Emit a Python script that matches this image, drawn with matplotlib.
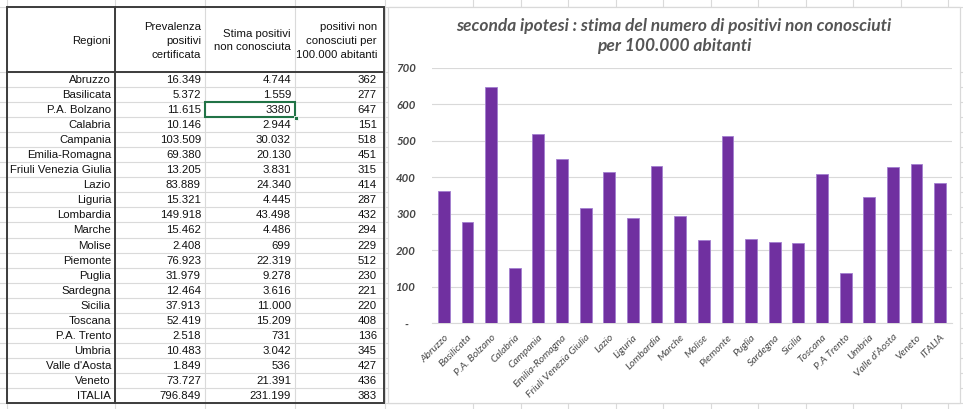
import matplotlib
matplotlib.use("Agg")
import matplotlib.pyplot as plt
from matplotlib.patches import Rectangle

# ---------------- data ----------------
regions = ["Abruzzo", "Basilicata", "P.A. Bolzano", "Calabria", "Campania",
           "Emilia-Romagna", "Friuli Venezia Giulia", "Lazio", "Liguria",
           "Lombardia", "Marche", "Molise", "Piemonte", "Puglia", "Sardegna",
           "Sicilia", "Toscana", "P.A. Trento", "Umbria", "Valle d'Aosta",
           "Veneto", "ITALIA"]
chart_labels = ["Abruzzo", "Basilicata", "P.A. Bolzano", "Calabria", "Campania",
                "Emilia-Romagna", "Friuli Venezia Giulia", "Lazio", "Liguria",
                "Lombardia", "Marche", "Molise", "Piemonte", "Puglia", "Sardegna",
                "Sicilia", "Toscana", "P.A Trento", "Umbria", "Valle d'Aosta",
                "Veneto", "ITALIA"]
prevalenza = [16349, 5372, 11615, 10146, 103509, 69380, 13205, 83889, 15321,
              149918, 15462, 2408, 76923, 31979, 12464, 37913, 52419, 2518,
              10483, 1849, 73727, 796849]
stima = [4744, 1559, 3380, 2944, 30032, 20130, 3831, 24340, 4445, 43498,
         4486, 699, 22319, 9278, 3616, 11000, 15209, 731, 3042, 536, 21391,
         231199]
per100k = [362, 277, 647, 151, 518, 451, 315, 414, 287, 432, 294, 229, 512,
           230, 221, 220, 408, 136, 345, 427, 436, 383]
headers = ["Regioni", "Prevalenza\npositivi\ncertificata",
           "Stima positivi\nnon conosciuta",
           "positivi non\nconosciuti per\n100.000 abitanti"]
title_lines = ["seconda ipotesi : stima del numero di positivi non conosciuti",
               "per 100.000 abitanti"]
yticks = [0, 100, 200, 300, 400, 500, 600, 700]
selected_row = 2  # cell being edited (shown raw, without separator)


def fmt(v):
    return f"{v:,}".replace(",", ".")


W, H = 963, 409
fig = plt.figure(figsize=(W / 100, H / 100), dpi=100)
renderer = fig.canvas.get_renderer()


def fit_size(txt, target_px, base=10, **kw):
    t = fig.text(0, 0, txt, fontsize=base, **kw)
    w = t.get_window_extent(renderer).width
    t.remove()
    return base * target_px / w


bg = fig.add_axes([0, 0, 1, 1])
bg.set_xlim(0, W)
bg.set_ylim(H, 0)
bg.axis("off")

grid_c = "#dadada"
dark = "#3c3c3c"
row_h = (403 - 72) / 22.0
row_lines = [7, 72] + [72 + row_h * (k + 1) for k in range(22)]
col_lines = [7, 115, 205, 295, 385] + [473 + 47.5 * k for k in range(11)]

for y in row_lines:
    bg.plot([0, W], [y, y], color=grid_c, lw=0.8, zorder=1)
for x in col_lines:
    bg.plot([x, x], [0, H], color=grid_c, lw=0.8, zorder=1)

# table borders
bg.add_patch(Rectangle((7, 7), 377, 396, fill=False, ec=dark, lw=1.4, zorder=3))
bg.plot([115, 115], [7, 403], color=dark, lw=1.4, zorder=3)
bg.plot([7, 384], [72, 72], color=dark, lw=1.4, zorder=3)

tfont = dict(family=["Liberation Sans", "DejaVu Sans"], fontsize=8.2, color="#111111")
col_right = [111, 201, 291, 377]

# headers
bg.text(col_right[0], 41, headers[0], ha="right", va="center", zorder=4, **tfont)
bg.text(col_right[1], 41, headers[1], ha="right", va="center", linespacing=1.45, zorder=4, **tfont)
bg.text(col_right[2], 40.5, headers[2], ha="right", va="center", linespacing=1.45, zorder=4, **tfont)
bg.text(col_right[3], 41, headers[3], ha="right", va="center", linespacing=1.45, zorder=4, **tfont)

for i in range(len(regions)):
    yc = 72 + row_h * (i + 0.5) + 0.5
    bg.text(col_right[0], yc, regions[i], ha="right", va="center", zorder=4, **tfont)
    bg.text(col_right[1], yc, fmt(prevalenza[i]), ha="right", va="center", zorder=4, **tfont)
    s = str(stima[i]) if i == selected_row else fmt(stima[i])
    bg.text(col_right[2], yc, s, ha="right", va="center", zorder=4, **tfont)
    bg.text(col_right[3], yc, str(per100k[i]), ha="right", va="center", zorder=4, **tfont)

# selection box
sy = 72 + row_h * selected_row
bg.add_patch(Rectangle((205, sy), 90, row_h, fill=False, ec="#217346", lw=1.5, zorder=5))
bg.add_patch(Rectangle((293.5, sy + row_h - 1.5), 4, 4, fc="#217346", ec="white", lw=0.6, zorder=6))

# chart area
bg.add_patch(Rectangle((388, 7), 572, 396, fc="white", ec="#d9d9d9", lw=0.9, zorder=7))

gray = "#555555"
cfont = ["Lato", "DejaVu Sans"]
title_kw = dict(family=cfont, style="italic", weight="bold")
tsize = fit_size(title_lines[0], 436, **title_kw)
fig.text(674 / W, 1 - 25.5 / H, title_lines[0], ha="center", va="center", fontsize=tsize,
         color=gray, zorder=10, **title_kw)
fig.text(674 / W, 1 - 45.5 / H, title_lines[1], ha="center", va="center", fontsize=tsize,
         color=gray, zorder=10, **title_kw)

xl_kw = dict(family=cfont, style="italic")
xsize = fit_size("Friuli Venezia Giulia", 86, **xl_kw)

ax = fig.add_axes([432 / W, (H - 323) / H, 520 / W, (323 - 68) / H], zorder=8)
ax.set_facecolor("none")
x = list(range(len(per100k)))
ax.bar(x, per100k, width=0.5, color="#7030A0", edgecolor="#a27fcf", linewidth=0.6, zorder=3)
ax.set_xlim(-0.5, len(per100k) - 0.5)
ax.set_ylim(0, 700)
ax.set_yticks(yticks)
ax.set_yticklabels(["-   "] + [str(v) for v in yticks[1:]], family=cfont,
                   style="italic", weight="bold", fontsize=8.2, color="#444444")
ax.yaxis.grid(True, color="#d9d9d9", lw=0.8, zorder=0)
ax.set_axisbelow(True)
for sp in ["top", "right", "left"]:
    ax.spines[sp].set_visible(False)
ax.spines["bottom"].set_color("#d9d9d9")
ax.spines["bottom"].set_linewidth(0.8)
ax.tick_params(axis="y", length=0, pad=11.5)
ax.tick_params(axis="x", length=0, pad=7)
ax.set_xticks(x)
ax.set_xticklabels(chart_labels, rotation=45, ha="right", rotation_mode="anchor",
                   fontsize=xsize, color="#4a4a4a", **xl_kw)

fig.savefig("out.png", dpi=100)
